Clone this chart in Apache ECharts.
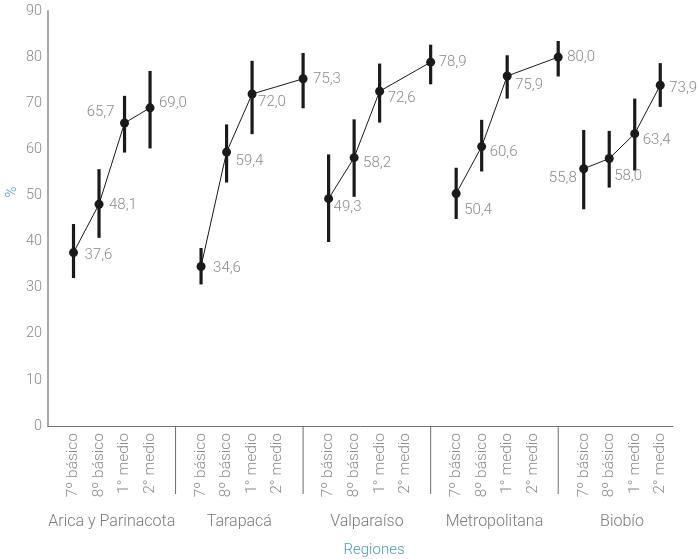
<!DOCTYPE html>
<html>
<head>
<meta charset="utf-8">
<script src="https://cdn.jsdelivr.net/npm/echarts@6/dist/echarts.min.js"></script>
<style>html,body{margin:0;padding:0;background:#fff}#c{width:698px;height:559px}</style>
</head>
<body>
<div id="c"></div>
<script>
// ---- data ----
const regions = ['Arica y Parinacota', 'Tarapacá', 'Valparaíso', 'Metropolitana', 'Biobío'];
const grades = ['7º básico', '8º básico', '1° medio', '2° medio'];
const yTicks = [0, 10, 20, 30, 40, 50, 60, 70, 80, 90];
// slot on the x axis for each grade label, per region
const labelSlots = [[1, 2, 3, 4], [6, 7, 8, 9], [11, 12, 13, 14], [16, 17, 18, 19], [21, 22, 23, 24]];
// slot where each point is drawn (as in the original picture)
const pointSlots = [[1, 2, 3, 4], [6, 7, 8, 10], [11, 12, 13, 15], [16, 17, 18, 20], [21, 22, 23, 24]];
const separatorSlots = [5, 10, 15, 20];
const values = [
  [37.6, 48.1, 65.7, 69.0],
  [34.6, 59.4, 72.0, 75.3],
  [49.3, 58.2, 72.6, 78.9],
  [50.4, 60.6, 75.9, 80.0],
  [55.8, 58.0, 63.4, 73.9]
];
const lows = [
  [32.1, 40.8, 59.3, 60.2],
  [30.7, 52.8, 63.3, 68.9],
  [39.9, 49.7, 65.8, 74.1],
  [44.9, 55.2, 71.0, 75.8],
  [47.0, 51.7, 55.4, 69.2]
];
const highs = [
  [43.8, 55.7, 71.6, 77.0],
  [38.6, 65.4, 79.2, 80.9],
  [58.9, 66.5, 78.6, 82.7],
  [56.0, 66.4, 80.4, 83.5],
  [64.2, 64.0, 71.0, 78.7]
];

// ---- layout / style (label placement per point) ----
const labelPlace = [
  [['right', 11, 3], ['right', 10, 1], ['left', 10, -11], ['right', 9, -5]],
  [['right', 12, 2], ['right', 9, 9], ['right', 6, 8], ['right', 10, 0]],
  [['right', 5, 9], ['right', 9, 6], ['right', 8, 7], ['right', 8, 0]],
  [['right', 8, 17], ['right', 8, 6], ['right', 8, 9], ['right', 9, 0]],
  [['left', 7, 10], ['right', 5, 18], ['right', 8, 7], ['right', 9, 3]]
];
const FONT = 'Roboto';
const GRAY = '#8a8a8a';
const TEAL = '#4a9fb3';
const INK = '#1a1a1a';
const R = 4.5;

const slotLabel = {};
labelSlots.forEach((row, g) => row.forEach((s, i) => { slotLabel[s] = grades[i]; }));
const fmt = v => v.toFixed(1).replace('.', ',');

const series = [];
// error bars
const errData = [];
regions.forEach((r, g) => grades.forEach((gr, i) => errData.push([pointSlots[g][i], lows[g][i], highs[g][i]])));
series.push({
  type: 'custom', z: 2, silent: true,
  data: errData,
  encode: { x: 0, y: [1, 2] },
  renderItem: function (params, api) {
    const a = api.coord([api.value(0), api.value(1)]);
    const b = api.coord([api.value(0), api.value(2)]);
    return { type: 'line', shape: { x1: a[0], y1: a[1], x2: b[0], y2: b[1] }, style: { stroke: INK, lineWidth: 3.2 } };
  }
});
// lines + points
regions.forEach((r, g) => {
  series.push({
    type: 'line', name: r, z: 3,
    symbol: 'circle', symbolSize: 9,
    itemStyle: { color: INK },
    lineStyle: { color: INK, width: 1 },
    data: values[g].map((v, i) => {
      const p = labelPlace[g][i];
      const off = p[0] === 'right' ? [p[1] - R, p[2]] : [-(p[1] - R), p[2]];
      return {
        value: [pointSlots[g][i], v],
        label: { show: true, position: p[0], distance: 0, offset: off, formatter: fmt(v),
          color: GRAY, fontSize: 15, fontFamily: FONT, fontWeight: 300 }
      };
    })
  });
});
// region separators
series.push({
  type: 'custom', silent: true, clip: false,
  data: separatorSlots.map(s => [s, 0]),
  renderItem: function (params, api) {
    const p = api.coord([api.value(0), 0]);
    return { type: 'line', shape: { x1: p[0], y1: p[1], x2: p[0], y2: p[1] + 68 }, style: { stroke: '#6e6e6e', lineWidth: 1 } };
  }
});
// region names
series.push({
  type: 'custom', silent: true, clip: false,
  data: labelSlots.map((row, g) => [(row[0] + row[row.length - 1]) / 2, 0, g]),
  renderItem: function (params, api) {
    const p = api.coord([api.value(0), 0]);
    return { type: 'text', x: p[0], y: p[1] + 96,
      style: { text: regions[api.value(2)], textAlign: 'center', textVerticalAlign: 'middle',
        fill: '#7a7a7a', fontSize: 16, fontFamily: FONT, fontWeight: 300 } };
  }
});

const chart = echarts.init(document.getElementById('c'), null, { renderer: 'canvas' });
chart.setOption({
  animation: false,
  backgroundColor: '#fff',
  grid: { left: 48, right: 25, top: 11, bottom: 133, containLabel: false },
  xAxis: {
    type: 'value', min: 0, max: 24.5, interval: 1,
    axisLine: { show: true, lineStyle: { color: '#777', width: 1 } },
    axisTick: { show: false },
    splitLine: { show: false },
    axisLabel: {
      rotate: 90, margin: 7, showMaxLabel: false,
      color: GRAY, fontSize: 15.5, fontFamily: FONT, fontWeight: 300,
      formatter: v => slotLabel[v] || ''
    }
  },
  yAxis: {
    type: 'value', min: yTicks[0], max: yTicks[yTicks.length - 1], interval: yTicks[1] - yTicks[0],
    axisLine: { show: true, lineStyle: { color: '#a8a8a8', width: 2 } },
    axisTick: { show: false },
    splitLine: { show: false },
    axisLabel: { color: GRAY, fontSize: 14.5, fontFamily: FONT, fontWeight: 300, margin: 6 }
  },
  graphic: [
    { type: 'text', x: 12, y: 192, rotation: Math.PI / 2,
      style: { text: '%', textAlign: 'center', textVerticalAlign: 'middle', fill: TEAL, fontSize: 15, fontFamily: FONT, fontWeight: 300 } },
    { type: 'text', x: 374, y: 550,
      style: { text: 'Regiones', textAlign: 'center', textVerticalAlign: 'middle', fill: TEAL, fontSize: 15, fontFamily: FONT, fontWeight: 300 } }
  ],
  series: series
});
</script>
</body>
</html>
